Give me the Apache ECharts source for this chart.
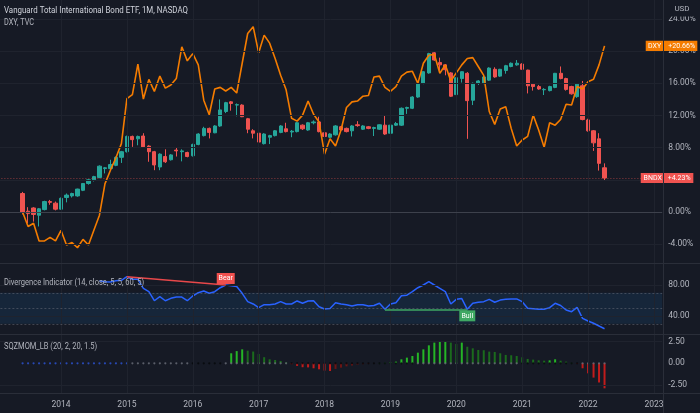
<!DOCTYPE html>
<html>
<head>
<meta charset="utf-8">
<script src="https://cdn.jsdelivr.net/npm/echarts@6.0.0/dist/echarts.min.js"></script>
<style>
html,body{margin:0;padding:0;background:#161a25;overflow:hidden;}
#chart{width:700px;height:413px;}
</style>
</head>
<body>
<div id="chart"></div>
<script>
// ================= DATA =================
const firstBar = '2013-06';
// BNDX monthly candles, % change from first close: [open, close, low, high]
const bndxOHLC = [
[2.3,0,-0.3,2.5],[0.1,-0.2,-1.4,0.6],[0.5,-0.3,-1.2,0.6],[-0.4,0.4,-1.8,0.5],[0.3,1.3,0.2,1.4],
[1.3,1.2,0.9,1.5],[1.1,0.35,0.2,1.3],[0.35,1.7,0.3,1.8],[1.8,2.1,1.2,2.3],[2.0,2.3,1.8,2.4],
[2.0,2.85,1.9,2.9],[2.7,3.55,2.6,3.6],[3.55,4.0,3.4,4.1],[4.0,4.4,3.8,4.5],[4.3,5.7,4.2,5.8],
[5.4,5.5,4.8,5.6],[5.4,5.9,5.3,6.5],[5.8,6.8,5.7,6.9],[6.8,7.5,6.1,7.6],[7.5,9.4,7.4,9.5],
[9.4,9.0,8.1,9.5],[9.1,9.4,8.3,9.5],[9.45,8.1,8.0,9.8],[8.2,7.5,6.25,8.3],[7.5,5.85,5.2,7.6],
[5.6,7.2,5.2,7.3],[6.9,6.25,6.1,7.8],[6.5,7.1,6.4,7.2],[7.7,7.6,6.9,8.05],[7.5,7.6,6.3,7.8],
[7.4,6.9,6.8,7.5],[7.0,8.4,6.9,8.5],[8.4,9.7,8.3,9.8],[9.5,10.4,9.4,10.6],[10.4,9.9,9.15,10.5],
[9.85,10.7,9.8,10.8],[10.7,12.7,10.6,14.0],[12.5,13.6,12.3,13.7],[13.7,13.5,12.6,13.8],[13.3,13.35,11.9,13.5],
[13.3,11.85,11.8,13.4],[11.6,10.3,9.8,11.7],[10.1,9.8,9.15,10.3],[9.8,8.7,8.6,9.9],[8.5,9.7,8.4,9.8],
[9.3,9.5,8.45,9.6],[9.5,10.1,9.4,10.2],[9.9,10.7,9.8,10.8],[10.35,10.0,9.9,11.1],[9.95,10.05,9.3,10.2],
[10.0,11.1,9.9,11.2],[10.8,10.35,10.2,10.9],[10.2,11.1,10.1,11.2],[11.1,11.2,10.9,11.4],[11.2,10.0,9.9,11.85],
[9.85,9.4,9.3,10.0],[9.3,9.7,9.2,9.8],[9.6,10.7,9.5,10.8],[10.6,10.2,10.1,10.7],[10.4,10.0,9.9,10.5],
[10.1,10.7,9.4,10.8],[10.85,10.75,10.6,11.3],[10.3,10.7,10.2,10.8],[10.6,10.4,10.3,10.7],[10.4,10.5,9.45,10.6],
[10.3,10.85,10.2,10.9],[10.8,9.7,9.6,11.95],[9.8,10.8,9.4,10.9],[10.8,11.0,10.7,11.2],[10.8,12.9,10.7,13.0],
[12.9,13.0,12.2,13.1],[12.9,14.3,12.8,14.4],[14.3,16.0,14.2,16.1],[16.0,17.45,15.9,17.5],[17.3,19.7,17.2,19.8],
[19.8,18.9,18.8,19.95],[18.6,18.3,17.6,19.2],[18.3,17.7,17.0,18.4],[17.3,14.4,14.3,17.4],[14.6,16.7,14.5,16.8],
[16.6,17.45,16.1,17.5],[17.25,13.85,9.1,17.4],[13.9,16.0,13.3,16.1],[16.0,16.3,15.8,16.4],[16.0,16.8,15.9,16.9],
[16.4,17.9,16.3,18.0],[17.75,16.8,16.7,18.0],[16.9,17.75,16.8,17.8],[17.6,18.2,17.2,18.3],[18.1,18.5,18.0,18.6],
[18.3,18.5,18.2,18.9],[18.4,17.75,17.7,18.5],[17.65,15.7,14.75,17.7],[15.9,15.6,15.1,16.0],[15.6,15.3,15.2,15.8],
[15.2,15.25,14.55,15.4],[15.1,15.6,15.0,15.7],[15.5,17.25,15.4,17.3],[17.25,16.6,16.5,18.1],[16.6,15.25,15.1,16.7],
[15.6,14.7,14.6,15.7],[14.35,15.9,14.2,16.0],[15.7,11.5,11.4,16.3],[11.45,10.1,10.0,11.6],[10.1,8.6,7.6,10.2],
[9.1,6.05,5.15,9.8],[5.5,4.23,3.9,6.05]
];
// DXY, % change from first close
const dxyPct = [
0,-1.8,-1.4,-3.6,-3.6,-3.15,-3.6,-2.3,-4.1,-3.8,
-4.45,-3.4,-4.1,-2.25,-0.4,3.5,5.2,6.75,8.5,14.1,
14.6,18.4,14.05,16.5,15.0,16.9,15.4,15.8,16.6,20.55,
18.8,19.7,18.3,13.9,12.1,15.3,15.5,15.05,15.5,14.8,
18.5,22.2,23.05,19.8,22.0,21.0,19.1,17.0,15.2,11.65,
11.3,12.05,13.8,12.15,11.2,7.2,9.1,8.2,10.2,13.0,
13.7,13.8,14.4,14.5,16.8,16.9,15.5,15.0,15.6,16.9,
17.4,17.5,16.0,18.5,19.5,19.6,17.25,18.3,16.3,17.3,
18.3,19.1,19.2,18.1,17.0,12.5,10.9,12.8,13.1,10.4,
8.2,8.95,9.4,12.05,10.2,8.05,11.1,10.8,11.5,13.4,
13.3,15.6,15.3,16.2,16.5,18.3,20.66
];
// Divergence Indicator (RSI 14)
const divRsi = [
null,null,null,null,null,null,null,null,null,null,null,null,null,null,
85.5,84.3,84,85.5,86,90.7,87.4,87.4,75.7,71.4,
59.7,64.9,59.7,62.8,64.5,64.5,59.7,65.8,70.1,72.3,
69.3,71.4,76.5,80,79,78,69.3,58.5,55.5,50.7,
54.6,54.4,55.5,58.5,55.5,55.5,59.4,56.5,59.4,59.7,
52,49,49.7,57.2,55.5,54.4,53,54.5,54.5,53,
53.5,56.4,48.6,55.5,57.2,66.2,66.8,71.4,76.5,80,
84.3,80,75.7,71.4,55.5,61.5,62.5,48.6,56.4,57.7,
58.5,61.5,57.7,60.5,61.5,62,62,58.5,49.9,49.5,
48.6,48.6,50.8,56.4,53.5,47.7,45.6,51.2,37,33.5,
30.6,27.1,23.6
];
// SQZMOM_LB histogram
const sqzMom = [
null,null,null,null,null,null,null,null,null,null,null,null,null,null,null,null,null,null,null,null,
null,null,null,null,null,null,null,null,null,null,null,null,null,null,null,null,null,null,
1.15,1.4,1.6,1.45,1.35,1.07,0.7,0.46,0.38,0.27,
0.1,-0.1,-0.3,-0.45,-0.47,-0.57,-0.69,-0.84,-0.88,-0.65,
-0.5,-0.35,-0.25,-0.15,-0.1,-0.05,-0.02,0.02,0.05,0.1,
0.19,0.46,0.65,0.84,1.22,1.6,2.06,2.37,2.52,2.56,
2.37,2.22,2.37,1.9,1.72,1.53,1.5,1.34,1.3,1.15,
0.96,0.92,0.84,0.69,0.5,0.42,0.34,0.3,0.34,0.46,
0.3,0.19,0.05,-0.05,-0.57,-1.15,-1.64,-2.2,-2.87
];
// squeeze dots: 0 = no squeeze (blue), 1 = squeeze on (black), 2 = squeeze off (gray)
const sqzState = [
0,0,0,0,0,0,0,0,0,0,0,0,0,0,0,0,0,0,0,0,
2,2,2,2,2,2,2,2,2,2,2,1,1,1,1,1,1,2,2,2,
2,2,2,2,2,2,2,2,2,1,1,1,1,1,1,1,1,1,1,1,
1,1,1,1,1,1,1,1,1,1,1,1,2,2,2,2,2,2,2,2,
2,2,2,2,2,2,2,2,2,2,2,1,1,1,1,1,1,1,1,1,
1,1,2,2,2,2,2
];
const mainTicks = [-4, 4, 8, 12, 16, 20, 24];
const divBand = [30, 50, 70];
const yearLabels = ['2014','2015','2016','2017','2018','2019','2020','2021','2022','2023'];
const bearPair = [19, 37];
const bullPair = [66, 81];
const titles = {
  main: 'Vanguard Total International Bond ETF, 1M, NASDAQ',
  compare: 'DXY, TVC',
  div: 'Divergence Indicator (14, close, 5, 5, 60, 5)',
  sqz: 'SQZMOM_LB (20, 2, 20, 1.5)'
};

// ================= LAYOUT / STYLE =================
const BG = '#161a25';
const GRIDC = '#1f232e';
const SEPC = '#2a2e39';
const TXT = '#b2b5be';
const FONT = "Roboto, sans-serif";
const MONTH_PX = 5.49, PLOT_LEFT = -7.6;

const categories = [];
for (let y = 2013; y <= 2023; y++) for (let m = 1; m <= 12; m++) {
  if (y === 2023 && m > 2) break;
  categories.push(y + '-' + String(m).padStart(2, '0'));
}
const off = categories.indexOf(firstBar);
const plotWidth = categories.length * MONTH_PX;
function pad(arr) {
  const out = new Array(categories.length).fill('-');
  arr.forEach((v, i) => { out[off + i] = (v == null ? '-' : v); });
  return out;
}
const cat = i => categories[off + i];
const last = bndxOHLC.length - 1;

const MAIN = {zeroPx: 212, px: 8.04, top: 0, bottom: 263};
const DIV = {refPx: 316, ref: 40, px: 0.775, top: 263, bottom: 334};
const SQZ = {zeroPx: 363.3, px: 8.72, top: 334, bottom: 393};
const mainVal = p => (MAIN.zeroPx - p) / MAIN.px;
const divVal = p => DIV.ref + (DIV.refPx - p) / DIV.px;
const sqzVal = p => (SQZ.zeroPx - p) / SQZ.px;

function yearLines(vTop, vBot) {
  return yearLabels.map(y => [{coord: [y + '-01', vTop]}, {coord: [y + '-01', vBot]}]);
}
const gridBase = {left: PLOT_LEFT, width: plotWidth, outerBoundsMode: 'none', containLabel: false};

const up = '#26a69a', down = '#ef5350';
const candleData = pad(bndxOHLC);
const sqzColors = sqzMom.map((v, i) => {
  if (v == null) return null;
  const p = (i > 0 && sqzMom[i - 1] != null) ? sqzMom[i - 1] : 0;
  if (v > 0) return v > p ? '#25b526' : '#1b6b1d';
  return v < p ? '#c21c1c' : '#6b1515';
});
const sqzBars = pad(sqzMom.map((v, i) => v == null ? null : {value: v, itemStyle: {color: sqzColors[i]}}));
const dotCols = ['#2d55d8', '#05070a', '#6b6f7a'];
const sqzDots = pad(sqzState.map(s => ({value: 0, itemStyle: {color: dotCols[s]}})));

// horizontally condensed title text (the reference font is narrow)
const TITLE_FS = 8.5;
const mctx = document.createElement('canvas').getContext('2d');
mctx.font = TITLE_FS + 'px Roboto';
function titleText(text, x, y, targetW, fill) {
  const w = mctx.measureText(text).width || targetW;
  return {type: 'text', silent: true, x: x, y: y, scaleX: targetW / w, z: 20,
    style: {text: text, fill: fill, fontSize: TITLE_FS, fontFamily: FONT, verticalAlign: 'middle'}};
}

const axisLabelBase = {color: TXT, fontSize: 8.5, fontFamily: FONT, margin: 6, align: 'left'};

const option = {
  backgroundColor: BG,
  animation: false,
  grid: [
    Object.assign({top: MAIN.zeroPx - 28 * MAIN.px, height: 36 * MAIN.px}, gridBase),
    Object.assign({top: DIV.refPx - 80 * DIV.px, height: 120 * DIV.px}, gridBase),
    Object.assign({top: SQZ.zeroPx - 5 * SQZ.px, height: 10 * SQZ.px}, gridBase)
  ],
  xAxis: [0, 1, 2].map(g => ({
    type: 'category', gridIndex: g, data: categories, boundaryGap: true,
    axisLine: {show: false}, axisTick: {show: false}, splitLine: {show: false},
    offset: g === 2 ? -((SQZ.zeroPx + 5 * SQZ.px) - SQZ.bottom) : 0,
    axisLabel: {
      show: g === 2, color: TXT, fontSize: 8.5, fontFamily: FONT, margin: 7,
      interval: (idx, v) => v.endsWith('-01') && yearLabels.includes(v.slice(0, 4)),
      formatter: v => v.slice(0, 4)
    }
  })),
  yAxis: [
    {type: 'value', gridIndex: 0, position: 'right', min: -8, max: 28, interval: 4,
     axisLine: {show: false}, axisTick: {show: false}, splitLine: {show: false},
     axisLabel: Object.assign({}, axisLabelBase, {formatter: v => (v < -6 || v > 26) ? '' : v.toFixed(2) + '%'})},
    {type: 'value', gridIndex: 1, position: 'right', min: 0, max: 120, interval: 40,
     axisLine: {show: false}, axisTick: {show: false}, splitLine: {show: false},
     axisLabel: Object.assign({}, axisLabelBase, {formatter: v => (v === 40 || v === 80) ? v.toFixed(2) : ''})},
    {type: 'value', gridIndex: 2, position: 'right', min: -5, max: 5, interval: 2.5,
     axisLine: {show: false}, axisTick: {show: false}, splitLine: {show: false},
     axisLabel: Object.assign({}, axisLabelBase, {formatter: v => Math.abs(v) <= 2.5 ? v.toFixed(2) : ''})}
  ],
  series: [
    {type: 'line', xAxisIndex: 0, yAxisIndex: 0, data: [], z: 1, silent: true,
     markLine: {silent: true, symbol: 'none', label: {show: false}, animation: false,
       lineStyle: {color: GRIDC, width: 1, type: 'solid'},
       data: mainTicks.map(v => ({yAxis: v})).concat(yearLines(mainVal(MAIN.top), mainVal(MAIN.bottom)))
         .concat([{yAxis: 0, lineStyle: {color: '#3d414c', width: 1}}])}},
    {type: 'line', xAxisIndex: 1, yAxisIndex: 1, data: [], z: 1, silent: true,
     markLine: {silent: true, symbol: 'none', label: {show: false},
       lineStyle: {color: GRIDC, width: 1, type: 'solid'},
       data: [{yAxis: 80}, {yAxis: 40}].concat(yearLines(divVal(DIV.top), divVal(DIV.bottom)))}},
    {type: 'line', xAxisIndex: 2, yAxisIndex: 2, data: [], z: 1, silent: true,
     markLine: {silent: true, symbol: 'none', label: {show: false},
       lineStyle: {color: GRIDC, width: 1, type: 'solid'},
       data: [{yAxis: 2.5}, {yAxis: -2.5}].concat(yearLines(sqzVal(SQZ.top), sqzVal(SQZ.bottom)))}},
    {name: 'BNDX', type: 'candlestick', xAxisIndex: 0, yAxisIndex: 0, data: candleData, barWidth: 3.7, z: 3,
     itemStyle: {color: up, color0: down, borderColor: up, borderColor0: down, borderWidth: 1},
     markLine: {silent: true, symbol: 'none', label: {show: false},
       data: [{yAxis: bndxOHLC[last][1], lineStyle: {color: 'rgba(239,83,80,0.55)', type: [1, 2], width: 1}}]},
     markPoint: {silent: true, data: [{
       coord: [cat(last), bndxOHLC[last][1]], symbol: 'rect', symbolSize: [52.6, 10],
       symbolOffset: [62.5, 0], itemStyle: {color: '#ef5350'},
       label: {show: true, position: 'inside', fontFamily: FONT, fontSize: 7, color: '#fff',
         formatter: '{a|BNDX}{b|+' + bndxOHLC[last][1].toFixed(2) + '%}',
         rich: {a: {width: 22, align: 'left', fontSize: 7, fontFamily: FONT, color: '#fff'},
                b: {width: 25, align: 'right', fontSize: 7, fontFamily: FONT, color: '#fff'}}}
     }]}},
    {name: 'DXY', type: 'line', xAxisIndex: 0, yAxisIndex: 0, data: pad(dxyPct), z: 4,
     symbol: 'none', lineStyle: {color: '#f57c00', width: 1.6},
     markPoint: {silent: true, data: [{
       coord: [cat(last), dxyPct[last]], symbol: 'rect', symbolSize: [51.6, 10.3],
       symbolOffset: [67, 0], itemStyle: {color: '#f57c00'},
       label: {show: true, position: 'inside', fontFamily: FONT, fontSize: 7, color: '#fff',
         formatter: '{a|DXY}{b|+' + dxyPct[last].toFixed(2) + '%}',
         rich: {a: {width: 20, align: 'left', fontSize: 7, fontFamily: FONT, color: '#fff'},
                b: {width: 27, align: 'right', fontSize: 7, fontFamily: FONT, color: '#fff'}}}
     }]}},
    {name: 'RSI', type: 'line', xAxisIndex: 1, yAxisIndex: 1, data: pad(divRsi), z: 4,
     symbol: 'none', lineStyle: {color: '#2962ff', width: 1.5},
     markArea: {silent: true, itemStyle: {color: 'rgba(33,150,243,0.10)'},
       data: [[{yAxis: divBand[0]}, {yAxis: divBand[2]}]]},
     markLine: {silent: true, symbol: 'none', label: {show: false},
       data: divBand.map(v => ({yAxis: v, lineStyle: {color: 'rgba(120,123,134,0.45)', type: [2, 2], width: 1}}))
         .concat([
           [{coord: [cat(bearPair[0]), divRsi[bearPair[0]]]}, {coord: [cat(bearPair[1]), divRsi[bearPair[1]]], lineStyle: {color: '#e8484a', width: 1.5, type: 'solid'}}],
           [{coord: [cat(bullPair[0]), divRsi[bullPair[0]]]}, {coord: [cat(bullPair[1]), divRsi[bullPair[1]]], lineStyle: {color: '#3fa863', width: 1.5, type: 'solid'}}]
         ])},
     markPoint: {silent: true, data: [
       {coord: [cat(bearPair[1]), divRsi[bearPair[1]]], symbol: 'rect', symbolSize: [18, 11], symbolOffset: [0, -6.5],
        itemStyle: {color: '#f0504e'},
        label: {show: true, position: 'inside', formatter: 'Bear', color: '#fff', fontSize: 7, fontFamily: FONT}},
       {coord: [cat(bullPair[1]), divRsi[bullPair[1]]], symbol: 'rect', symbolSize: [16, 11], symbolOffset: [0, 6.5],
        itemStyle: {color: '#3fa863'},
        label: {show: true, position: 'inside', formatter: 'Bull', color: '#fff', fontSize: 7, fontFamily: FONT}}
     ]}},
    {name: 'SQZ', type: 'bar', xAxisIndex: 2, yAxisIndex: 2, data: sqzBars, barWidth: 2, z: 3},
    {name: 'SQZdots', type: 'scatter', xAxisIndex: 2, yAxisIndex: 2, data: sqzDots, symbol: 'circle', symbolSize: 2.2, z: 4}
  ],
  graphic: [
    {type: 'line', silent: true, shape: {x1: 0, y1: 263.5, x2: 700, y2: 263.5}, style: {stroke: SEPC, lineWidth: 1}, z: 10},
    {type: 'line', silent: true, shape: {x1: 0, y1: 334.5, x2: 700, y2: 334.5}, style: {stroke: SEPC, lineWidth: 1}, z: 10},
    {type: 'line', silent: true, shape: {x1: 0, y1: 393.5, x2: 700, y2: 393.5}, style: {stroke: SEPC, lineWidth: 1}, z: 10},
    {type: 'line', silent: true, shape: {x1: 663.5, y1: 0, x2: 663.5, y2: 413}, style: {stroke: SEPC, lineWidth: 1}, z: 10},
    titleText(titles.main, 4, 11, 184, '#d1d4dc'),
    titleText(titles.compare, 4, 23, 30, TXT),
    titleText(titles.div, 4, 283, 140, TXT),
    titleText(titles.sqz, 4, 347, 93, TXT),
    {type: 'rect', silent: true, shape: {x: 664, y: 0, width: 36, height: 16.5}, style: {fill: BG}, z: 19},
    {type: 'text', silent: true, x: 682, y: 9, z: 20, style: {text: 'USD', fill: TXT, fontSize: 8, fontFamily: FONT, align: 'center', verticalAlign: 'middle'}}
  ]
};
const chart = echarts.init(document.getElementById('chart'), null, {renderer: 'canvas'});
chart.setOption(option);
</script>
</body>
</html>
